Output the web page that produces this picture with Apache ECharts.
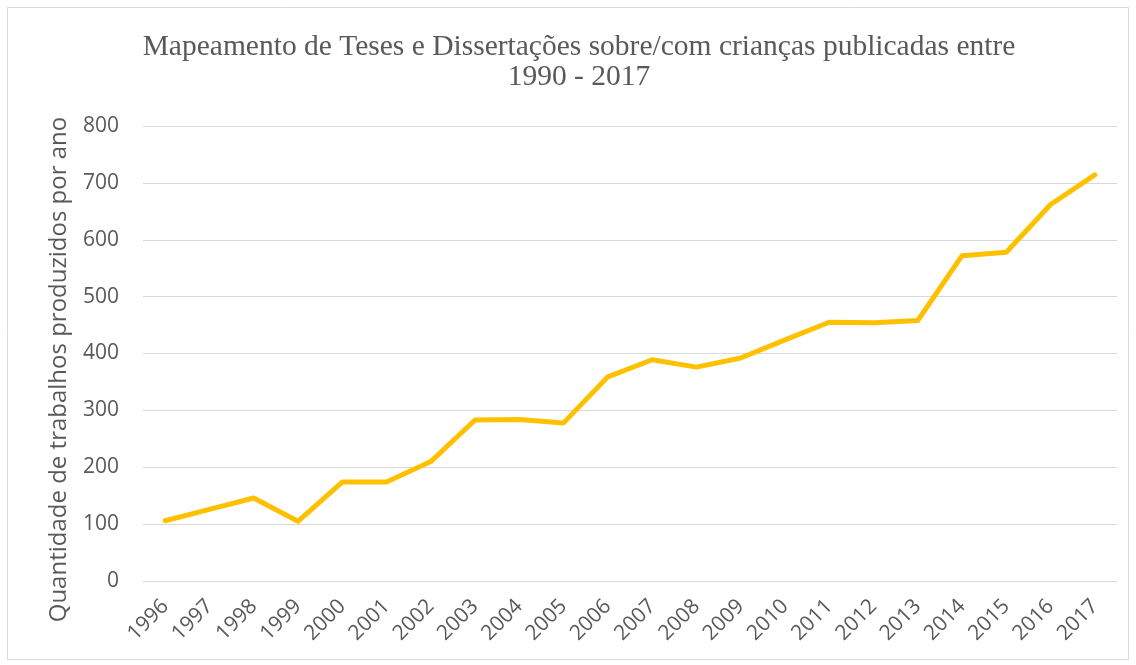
<!DOCTYPE html>
<html>
<head>
<meta charset="utf-8">
<script src="https://cdn.jsdelivr.net/npm/echarts@6/dist/echarts.min.js"></script>
<style>
  html, body { margin: 0; padding: 0; background: #fff; }
  #main { width: 1136px; height: 665px; }
</style>
</head>
<body>
<div id="main"></div>
<script>
var chartDom = document.getElementById('main');
var myChart = echarts.init(chartDom);
var option;

// anos
let years = ['1996','1997','1998','1999','2000','2001','2002','2003','2004','2005','2006',
  '2007','2008','2009','2010','2011','2012','2013','2014','2015','2016','2017'];
// trabalhos por ano
let works = [106,126,146,105,174,174,210,283,284,278,359,389,376,392,424,455,454,458,572,578,662,714];
let yTicks = [0,100,200,300,400,500,600,700,800];

option = {
  backgroundColor: '#fff',
  graphic: [{
    type: 'rect',
    shape: { x: 7.5, y: 7.5, width: 1121, height: 652 },
    style: { fill: 'none', stroke: '#d9d9d9', lineWidth: 1 },
    silent: true
  }],
  title: {
    text: 'Mapeamento de Teses e Dissertações sobre/com crianças publicadas entre\n1990 - 2017',
    left: 574,
    top: 27,
    textAlign: 'center',
    textStyle: {
      fontFamily: 'Liberation Serif',
      fontSize: 29.5,
      fontWeight: 'normal',
      color: '#595959',
      lineHeight: 30
    }
  },
  grid: {
    left: 143,
    right: 19,
    top: 126,
    bottom: 84
  },
  xAxis: {
    type: 'category',
    data: years,
    boundaryGap: true,
    axisLine: { show: false },
    axisTick: { show: false },
    axisLabel: {
      rotate: 45,
      margin: 22,
      interval: 0,
      fontFamily: 'Open Sans',
      fontSize: 21,
      color: '#595959'
    }
  },
  yAxis: {
    type: 'value',
    min: yTicks[0],
    max: yTicks[yTicks.length - 1],
    interval: 100,
    name: 'Quantidade de trabalhos produzidos por ano',
    nameLocation: 'middle',
    nameGap: 72,
    nameTextStyle: {
      fontFamily: 'Open Sans',
      fontSize: 24,
      color: '#595959',
      padding: [0, 32, 0, 0]
    },
    axisLine: { show: false },
    axisTick: { show: false },
    axisLabel: {
      margin: 24,
      fontFamily: 'Open Sans',
      fontSize: 21,
      color: '#595959'
    },
    splitLine: {
      lineStyle: { color: '#d9d9d9', width: 1 }
    }
  },
  series: [
    {
      name: 'Trabalhos',
      type: 'line',
      data: works,
      symbol: 'none',
      lineStyle: { color: '#FFC000', width: 5, cap: 'round', join: 'round' },
      itemStyle: { color: '#FFC000' }
    }
  ]
};

option && myChart.setOption(option);
</script>
</body>
</html>
